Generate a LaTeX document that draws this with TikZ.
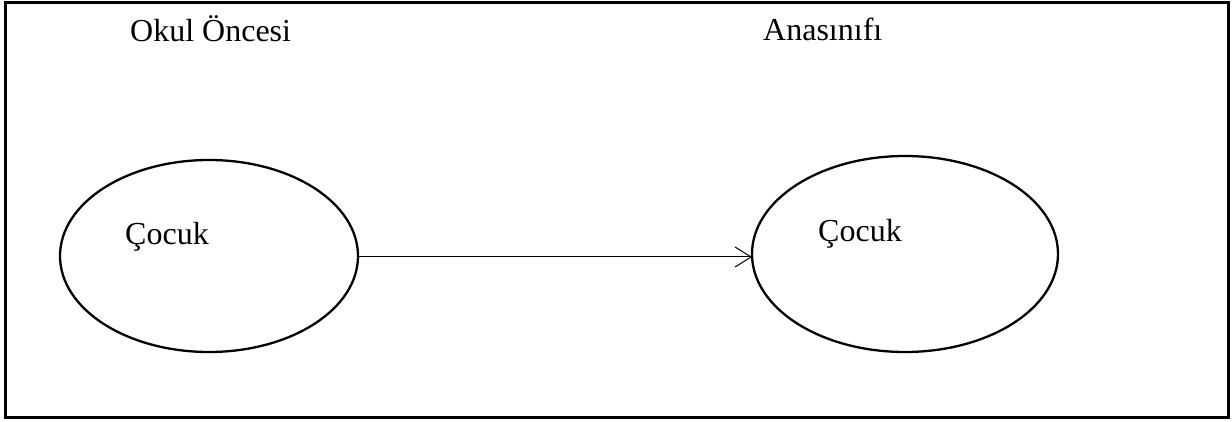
\documentclass[tikz,border=0pt]{standalone}
\usepackage{fontspec}
\setmainfont{Liberation Serif}
\usetikzlibrary{arrows.meta}
\begin{document}
\begin{tikzpicture}[x=1pt,y=-1pt,
  lbl/.style={font=\fontsize{32}{38}\selectfont, inner sep=0pt, anchor=base west},
  link/.style={line width=1pt, -{Straight Barb[length=16pt,width=20pt,line width=1pt]}}]
\useasboundingbox (0,0) rectangle (1232,422);
\draw[line width=3pt] (5,3) rectangle (1228,417);
\node[lbl] (t1) at (130,42) {Okul Öncesi};
\node[lbl] (t2) at (763,41) {Anasınıfı};
\draw[line width=2.3pt] (209,256) ellipse [x radius=149, y radius=96];
\draw[line width=2.3pt] (905,254) ellipse [x radius=153, y radius=98];
\coordinate (a) at (359,257);
\coordinate (b) at (752,257);
\node[lbl] (c1) at (125,245) {Çocuk};
\node[lbl] (c2) at (818,242) {Çocuk};
\draw[link] (a) -- (b);
\end{tikzpicture}
\end{document}
